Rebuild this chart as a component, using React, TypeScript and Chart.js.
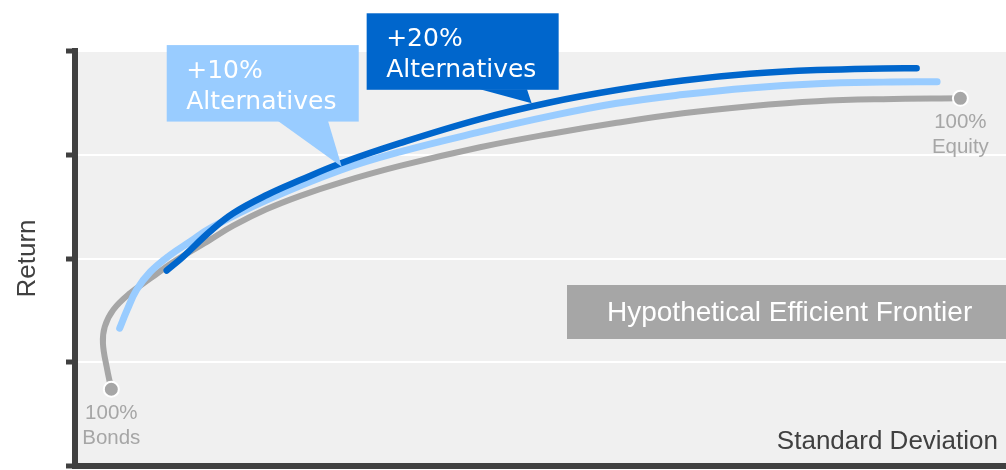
import React, { useEffect, useRef } from "react";
import { Chart, registerables } from "chart.js";

Chart.register(...registerables);

// ---- Data (x = standard deviation scale 0-100, y = return scale 0-100) ----
const allBondsToEquity: [number, number][] = [
  [3.9, 18.5], [3.4, 23.9], [3.0, 29.6], [3.2, 33.6], [4.1, 37.6], [5.9, 41.6],
  [8.1, 45.2], [10.6, 49.2], [14.5, 54.5], [17.0, 57.9], [20.6, 61.9], [24.2, 65.1],
  [28.5, 68.3], [34.9, 72.3], [43.5, 76.8], [51.0, 80.0], [58.2, 82.7], [65.3, 85.0],
  [72.5, 86.7], [79.7, 87.9], [86.8, 88.4], [95.1, 88.6],
];
const plus10Alternatives: [number, number][] = [
  [4.8, 33.2], [5.6, 37.6], [6.6, 42.4], [8.1, 46.8], [10.2, 50.8], [12.4, 54.1],
  [14.5, 57.3], [20.6, 64.1], [28.5, 71.3], [34.9, 75.7], [43.5, 80.5], [51.0, 84.3],
  [58.2, 87.4], [65.3, 89.5], [72.5, 91.1], [79.7, 92.1], [86.8, 92.5], [92.6, 92.6],
];
const plus20Alternatives: [number, number][] = [
  [9.85, 47.1], [11.6, 50.4], [14.5, 56.5], [17.0, 60.9], [20.6, 65.3], [24.2, 68.9],
  [28.5, 72.9], [34.9, 77.8], [43.5, 83.6], [51.0, 87.6], [58.2, 90.6], [65.3, 92.9],
  [72.5, 94.5], [79.7, 95.4], [86.8, 95.8], [90.4, 95.85],
];
const yTickValues = [0, 25, 50, 75, 100];
const xRange = [0, 100];
const seriesNames = ["100% Bonds to 100% Equity", "+10% Alternatives", "+20% Alternatives"];
const calloutLines = [["+10%", "Alternatives"], ["+20%", "Alternatives"]];
const calloutAnchors: [number, number][] = [[28.65, 72.1], [49.05, 87.4]];
const endLabels = [["100%", "Bonds"], ["100%", "Equity"]];
const boxLabel = "Hypothetical Efficient Frontier";
const xTitle = "Standard Deviation";
const yTitle = "Return";

const GRAY = "#A6A6A6";
const LIGHT_BLUE = "#99CCFF";
const DARK_BLUE = "#0066CC";
const AXIS = "#404040";
const SANS = "'Liberation Sans', Arial, sans-serif";
const CALLOUT_FONT = "'DejaVu Sans', Verdana, sans-serif";

const toXY = (arr: [number, number][]) => arr.map(([x, y]) => ({ x, y }));

const bgPlugin = {
  id: "plotBackground",
  beforeDraw(chart: any) {
    const { ctx, chartArea: a } = chart;
    ctx.save();
    ctx.fillStyle = "#F0F0F0";
    ctx.fillRect(a.left, a.top, a.right - a.left, a.bottom - a.top);
    ctx.restore();
  },
};

const calloutGeom = [
  { dx: -175, dy: -121.7, bx1: -63.7, bx2: -13.7, color: LIGHT_BLUE },
  { dx: -165, dy: -90, bx1: -51.7, bx2: -4.7, color: DARK_BLUE },
];

const annotationPlugin = {
  id: "annotations",
  afterDatasetsDraw(chart: any) {
    const { ctx, chartArea: a, scales } = chart;
    const xs = scales.x;
    const ys = scales.y;
    ctx.save();

    // grey label box
    const boxTop = 285;
    const boxH = 54;
    const boxLeft = 567;
    ctx.fillStyle = GRAY;
    ctx.fillRect(boxLeft, boxTop, chart.width - boxLeft, boxH);
    ctx.fillStyle = "#FFFFFF";
    ctx.font = `28px ${SANS}`;
    ctx.textAlign = "left";
    ctx.textBaseline = "middle";
    ctx.fillText(boxLabel, boxLeft + 40, boxTop + boxH / 2 + 1);

    // x title inside plot
    ctx.fillStyle = AXIS;
    ctx.font = `26px ${SANS}`;
    ctx.textAlign = "right";
    ctx.textBaseline = "alphabetic";
    ctx.fillText(xTitle, a.right - 8, a.bottom - 17.5);

    // end labels
    const ends = [allBondsToEquity[0], allBondsToEquity[allBondsToEquity.length - 1]];
    ctx.fillStyle = GRAY;
    ctx.font = `20.5px ${SANS}`;
    ctx.textAlign = "center";
    ends.forEach((p, i) => {
      const px = xs.getPixelForValue(p[0]);
      const py = ys.getPixelForValue(p[1]);
      ctx.fillText(endLabels[i][0], px, py + 29.5);
      ctx.fillText(endLabels[i][1], px, py + 54.5);
    });

    // callouts
    calloutAnchors.forEach((anc, i) => {
      const g = calloutGeom[i];
      const tx = xs.getPixelForValue(anc[0]);
      const ty = ys.getPixelForValue(anc[1]);
      const left = tx + g.dx;
      const top = ty + g.dy;
      const w = 192;
      const h = 76.5;
      ctx.fillStyle = g.color;
      ctx.fillRect(left, top, w, h);
      ctx.beginPath();
      ctx.moveTo(tx + g.bx1, top + h - 0.5);
      ctx.lineTo(tx + g.bx2, top + h - 0.5);
      ctx.lineTo(tx, ty);
      ctx.closePath();
      ctx.fill();
      ctx.fillStyle = "#FFFFFF";
      ctx.font = `25px ${CALLOUT_FONT}`;
      ctx.textAlign = "left";
      ctx.textBaseline = "alphabetic";
      ctx.fillText(calloutLines[i][0], left + 19.5, top + 33);
      ctx.fillText(calloutLines[i][1], left + 19.5, top + 64);
    });

    ctx.restore();
  },
};

export default function App() {
  const ref = useRef<HTMLCanvasElement>(null);

  useEffect(() => {
    const canvas = ref.current;
    if (!canvas) return;
    const lastIdx = allBondsToEquity.length - 1;
    const chart = new Chart(canvas, {
      type: "scatter",
      data: {
        datasets: [
          {
            label: seriesNames[0],
            data: toXY(allBondsToEquity),
            showLine: true,
            tension: 0.4,
            borderColor: GRAY,
            borderWidth: 6,
            borderCapStyle: "round",
            borderJoinStyle: "round",
            pointRadius: (c: any) => (c.dataIndex === 0 || c.dataIndex === lastIdx ? 7.5 : 0),
            pointBackgroundColor: GRAY,
            pointBorderColor: "#FFFFFF",
            pointBorderWidth: 2,
            order: 3,
          },
          {
            label: seriesNames[1],
            data: toXY(plus10Alternatives),
            showLine: true,
            tension: 0.4,
            borderColor: LIGHT_BLUE,
            borderWidth: 7,
            borderCapStyle: "round",
            borderJoinStyle: "round",
            pointRadius: 0,
            order: 2,
          },
          {
            label: seriesNames[2],
            data: toXY(plus20Alternatives),
            showLine: true,
            tension: 0.4,
            borderColor: DARK_BLUE,
            borderWidth: 6.5,
            borderCapStyle: "round",
            borderJoinStyle: "round",
            pointRadius: 0,
            order: 1,
          },
        ],
      } as any,
      options: {
        animation: false,
        responsive: false,
        devicePixelRatio: 1,
        events: [],
        layout: { autoPadding: false, padding: { top: 51, left: 0, right: 0, bottom: 0 } },
        plugins: { legend: { display: false }, tooltip: { enabled: false } },
        scales: {
          x: {
            type: "linear",
            position: "bottom",
            min: xRange[0],
            max: xRange[1],
            grid: { display: false, drawTicks: false },
            border: { display: true, color: AXIS, width: 6 },
            ticks: { display: false },
            afterFit: (s: any) => {
              s.height = 4;
            },
          },
          y: {
            type: "linear",
            position: "left",
            min: yTickValues[0],
            max: yTickValues[yTickValues.length - 1],
            ticks: { display: false, stepSize: yTickValues[1] - yTickValues[0] },
            grid: {
              color: "#FFFFFF",
              lineWidth: 2,
              drawTicks: true,
              tickLength: 9,
              tickColor: AXIS,
              tickWidth: 5,
            },
            border: { display: true, color: AXIS, width: 6 },
            title: {
              display: true,
              text: yTitle,
              color: AXIS,
              font: { family: SANS, size: 26 },
              padding: { top: 12.4, bottom: 0 },
            },
            afterFit: (s: any) => {
              s.width = 75;
            },
          },
        },
      } as any,
      plugins: [bgPlugin, annotationPlugin],
    });
    return () => chart.destroy();
  }, []);

  return (
    <div style={{ position: "fixed", left: 0, top: 0, width: 1006, height: 470, background: "#FFFFFF" }}>
      <canvas ref={ref} width={1006} height={470} style={{ display: "block", width: 1006, height: 470 }} />
    </div>
  );
}
